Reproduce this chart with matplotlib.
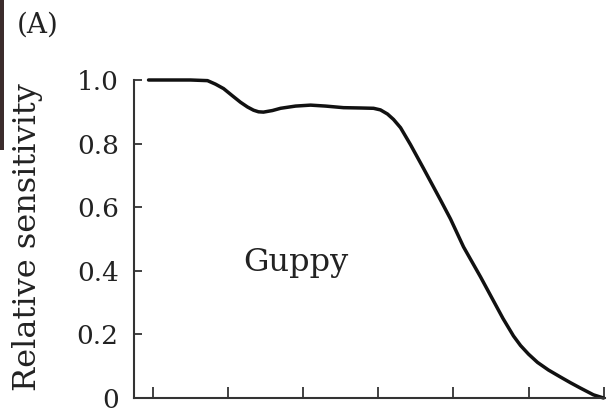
import matplotlib
matplotlib.use("Agg")
import matplotlib.pyplot as plt
from matplotlib.patches import Rectangle

# Relative spectral sensitivity of the guppy, read along the wavelength axis (nm)
wavelength = [346.7, 361.3, 374.7, 386.0, 391.3, 396.7, 402.7, 408.0, 412.7, 416.7,
              420.0, 423.3, 429.3, 434.7, 444.7, 454.7, 464.7, 476.7, 488.0, 496.7,
              501.3, 506.0, 510.0, 514.7, 521.3, 530.0, 541.3, 548.0, 556.7, 568.0,
              576.7, 583.0, 590.0, 594.7, 600.0, 606.0, 613.3, 621.3, 628.0, 634.7,
              643.3, 650.0]
sensitivity = [1.000, 1.000, 1.000, 0.998, 0.987, 0.973, 0.950, 0.930, 0.915, 0.905,
               0.900, 0.899, 0.904, 0.911, 0.918, 0.921, 0.918, 0.913, 0.912, 0.911,
               0.906, 0.893, 0.876, 0.850, 0.797, 0.722, 0.623, 0.563, 0.475, 0.381,
               0.305, 0.250, 0.195, 0.165, 0.138, 0.112, 0.088, 0.066, 0.048, 0.031,
               0.010, 0.000]

y_ticks = [0, 0.2, 0.4, 0.6, 0.8, 1.0]
y_tick_labels = ["0", "0.2", "0.4", "0.6", "0.8", "1.0"]
x_ticks = [350, 400, 450, 500, 550, 600, 650]

plt.rcParams['font.family'] = ['DejaVu Serif']

fig = plt.figure(figsize=(6.09, 4.15), dpi=100)
ax = fig.add_axes([134 / 609, 17 / 415, 471 / 609, 318 / 415])

ax.plot(wavelength, sensitivity, color='#111111', lw=2.5,
        solid_joinstyle='round', solid_capstyle='round', clip_on=False)

ax.set_xlim(337, 651)
ax.set_ylim(0, 1.0)
ax.set_xticks(x_ticks)
ax.set_xticklabels([])
ax.set_yticks(y_ticks)
ax.set_yticklabels(y_tick_labels)

for side in ('top', 'right'):
    ax.spines[side].set_visible(False)
for side in ('left', 'bottom'):
    ax.spines[side].set_color('#333333')
    ax.spines[side].set_linewidth(1.5)

ax.tick_params(axis='x', direction='in', length=8, width=1.3, color='#333333')
ax.tick_params(axis='y', direction='in', length=6, width=1.3, color='#333333',
               labelsize=19, pad=11, labelcolor='#222222')

ax.text(444.7, 0.40, "Guppy", fontsize=23, color='#222222',
        ha='center', va='baseline')

fig.text(28 / 609, 1 - 237 / 415, "Relative sensitivity", rotation=90,
         fontsize=23, color='#222222', ha='center', va='center')
fig.text(17 / 609, 1 - 33 / 415, "(A)", fontsize=20, color='#222222',
         ha='left', va='baseline')

# dark strip along the upper left edge of the scanned page
fig.patches.append(Rectangle((0, 1 - 150 / 415), 4 / 609, 150 / 415,
                             transform=fig.transFigure, facecolor='#3b2c2c',
                             edgecolor='none', zorder=0))

fig.savefig("out.png", dpi=100)
